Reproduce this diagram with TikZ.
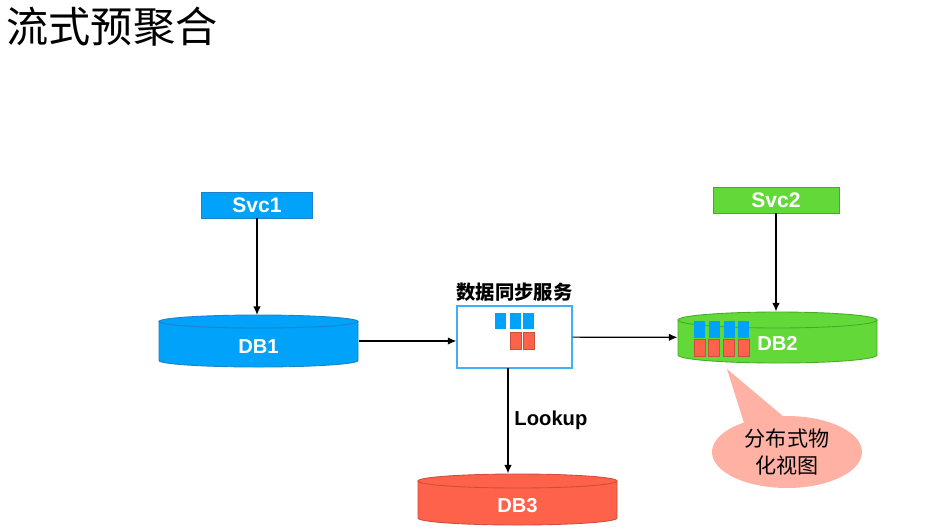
\documentclass[tikz,border=0pt]{standalone}
\usepackage{fontspec}
\setmainfont{Liberation Sans}
\newfontfamily\cjk{Noto Sans CJK SC}
\usetikzlibrary{arrows.meta,shapes.callouts}
\definecolor{dbblue}{RGB}{0,162,250}
\definecolor{dbblueline}{RGB}{30,130,200}
\definecolor{dbgreen}{RGB}{98,217,56}
\definecolor{dbgreenline}{RGB}{70,170,40}
\definecolor{dbred}{RGB}{255,98,74}
\definecolor{dbredline}{RGB}{205,78,58}
\definecolor{boxline}{RGB}{64,176,246}
\definecolor{calloutpink}{RGB}{255,178,164}
\begin{document}
\begin{tikzpicture}[x=0.02cm, y=-0.02cm, >={Latex[length=1.7mm,width=1.5mm]}, line width=0.7pt,
svc node/.style={rectangle,draw,line width=0.4pt,minimum height=0.52cm,inner sep=0pt,text=white,font=\bfseries\fontsize{12}{14}\selectfont},
db node/.style={rectangle,minimum width=3.98cm,minimum height=1.02cm,inner sep=0pt,text=white,text height=14.3pt,text depth=0pt,font=\bfseries\fontsize{11.5}{14}\selectfont},
sync node/.style={rectangle,draw=boxline,fill=white,line width=0.8pt,minimum width=2.3cm,minimum height=1.24cm,inner sep=0pt}]
\useasboundingbox (0,0) rectangle (934,529);
% drums
\foreach \cx/\ty/\by/\ry/\f/\d in {258.5/315/367/6.5/dbblue/dbblueline, 777.5/312/363/8/dbgreen/dbgreenline, 517.5/474/525/7/dbred/dbredline}{
  \filldraw[fill=\f,draw=\d,line width=0.5pt] (\cx-99.5,\ty+\ry) -- (\cx-99.5,\by-\ry) arc[start angle=180,end angle=0,x radius=99.5,y radius=\ry] -- (\cx+99.5,\ty+\ry) -- cycle;
  \filldraw[fill=\f,draw=\d,line width=0.5pt] (\cx,\ty+\ry) ellipse[x radius=99.5,y radius=\ry];
}
\begin{scope}
\node[anchor=west,inner sep=0pt,font=\cjk\fontsize{24}{28}\selectfont] (title) at (6,27) {流式预聚合};
\node[svc node,fill=dbblue,draw=dbblueline,minimum width=2.22cm] (svc1) at (257,205) {Svc1};
\node[svc node,fill=dbgreen,draw=dbgreenline,minimum width=2.52cm] (svc2) at (776,200) {Svc2};
\node[db node] (db1) at (258.5,341) {DB1};
\node[db node] (db2) at (777.5,337.5) {DB2};
\node[db node] (db3) at (517.5,499.5) {DB3};
\node[sync node] (box) at (514.5,337) {};
\node[font=\cjk\bfseries\fontsize{11}{13}\selectfont] (boxtitle) at (514.5,292) {数据同步服务};
\coordinate (lookup) at (508,368);
\coordinate (tip) at (727,369);
\node[ellipse callout,fill=calloutpink,minimum width=3cm,minimum height=1.44cm,inner sep=0pt,
  callout absolute pointer={(tip)},callout pointer arc=32,align=center,
  font=\cjk\fontsize{12}{15.5}\selectfont] (mv) at (787,452) {分布式物\\化视图};
\end{scope}
% queued rows
\foreach \x in {495,510,523} \fill[dbblue] (\x,313) rectangle ++(11,16);
\foreach \x in {510,523} \filldraw[fill=dbred,draw=dbredline,line width=0.4pt] (\x,332) rectangle ++(11,17);
\foreach \x in {694,708.5,723.5,738} \fill[dbblue] (\x,321) rectangle ++(11,17);
\foreach \x in {694,708.5,723.5,738} \filldraw[fill=dbred,draw=dbredline,line width=0.4pt] (\x,339) rectangle ++(11,17);
\begin{scope}[->]
\draw (svc1) edge (svc1 |- db1.north);
\draw (svc2) edge (svc2 |- db2.north);
\draw (db1) edge (db1 -| box.west);
\draw (box) edge (db2);
\end{scope}
\draw[->] (lookup) -- node[right,font=\bfseries\fontsize{11.5}{14}\selectfont] (lookuplabel) {Lookup} (lookup |- db3.north);
\end{tikzpicture}
\end{document}
